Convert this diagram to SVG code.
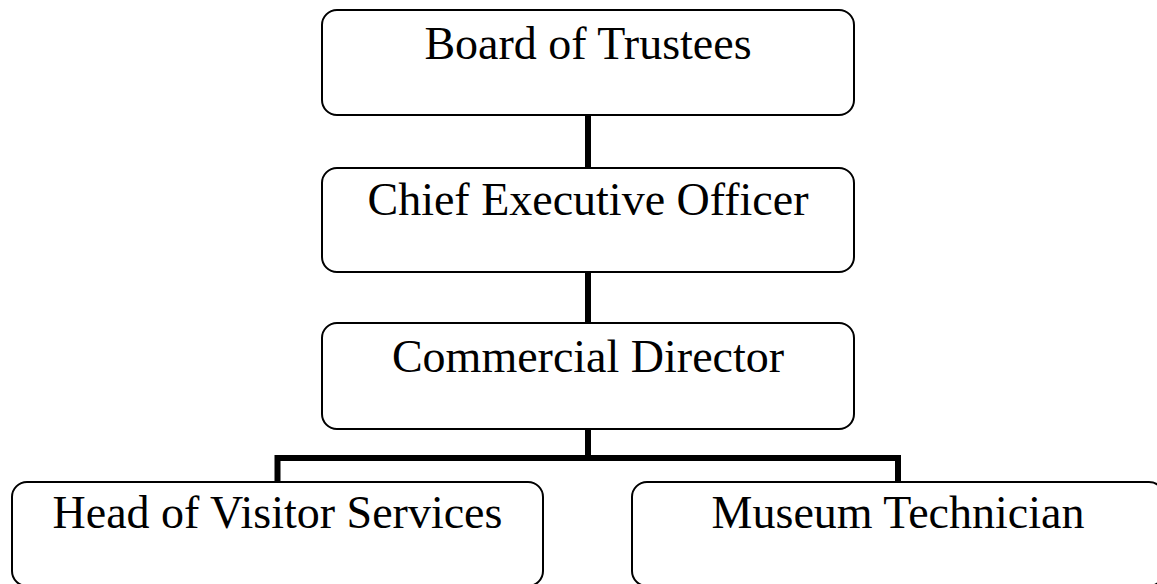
<svg xmlns="http://www.w3.org/2000/svg" width="1157" height="584" viewBox="0 0 1157 584">
<style>
.box{fill:#fff;stroke:#000;stroke-width:2}
.lbl{font-family:"Liberation Serif","Times New Roman",serif;font-size:46px;fill:#000;text-anchor:middle}
.conn{fill:none;stroke:#000;stroke-width:6}
</style>
<rect width="1157" height="584" fill="#fff"/>
<g id="connectors">
<line class="conn" x1="588" y1="115" x2="588" y2="168"/>
<line class="conn" x1="588" y1="272" x2="588" y2="323"/>
<line class="conn" x1="588" y1="429" x2="588" y2="458"/>
<polyline class="conn" points="277.5,482 277.5,458 898,458 898,482"/>
</g>
<g id="board">
<rect class="box" x="322" y="10" width="532" height="105" rx="15"/>
<text class="lbl" x="588" y="59">Board of Trustees</text>
</g>
<g id="ceo">
<rect class="box" x="322" y="168" width="532" height="104" rx="15"/>
<text class="lbl" x="588" y="215">Chief Executive Officer</text>
</g>
<g id="commercial">
<rect class="box" x="322" y="323" width="532" height="106" rx="15"/>
<text class="lbl" x="588" y="372">Commercial Director</text>
</g>
<g id="visitor">
<rect class="box" x="12" y="482" width="531" height="104" rx="15"/>
<text class="lbl" x="277.5" y="528">Head of Visitor Services</text>
</g>
<g id="technician">
<rect class="box" x="632" y="482" width="532" height="104" rx="15"/>
<text class="lbl" x="898" y="528">Museum Technician</text>
</g>
</svg>
